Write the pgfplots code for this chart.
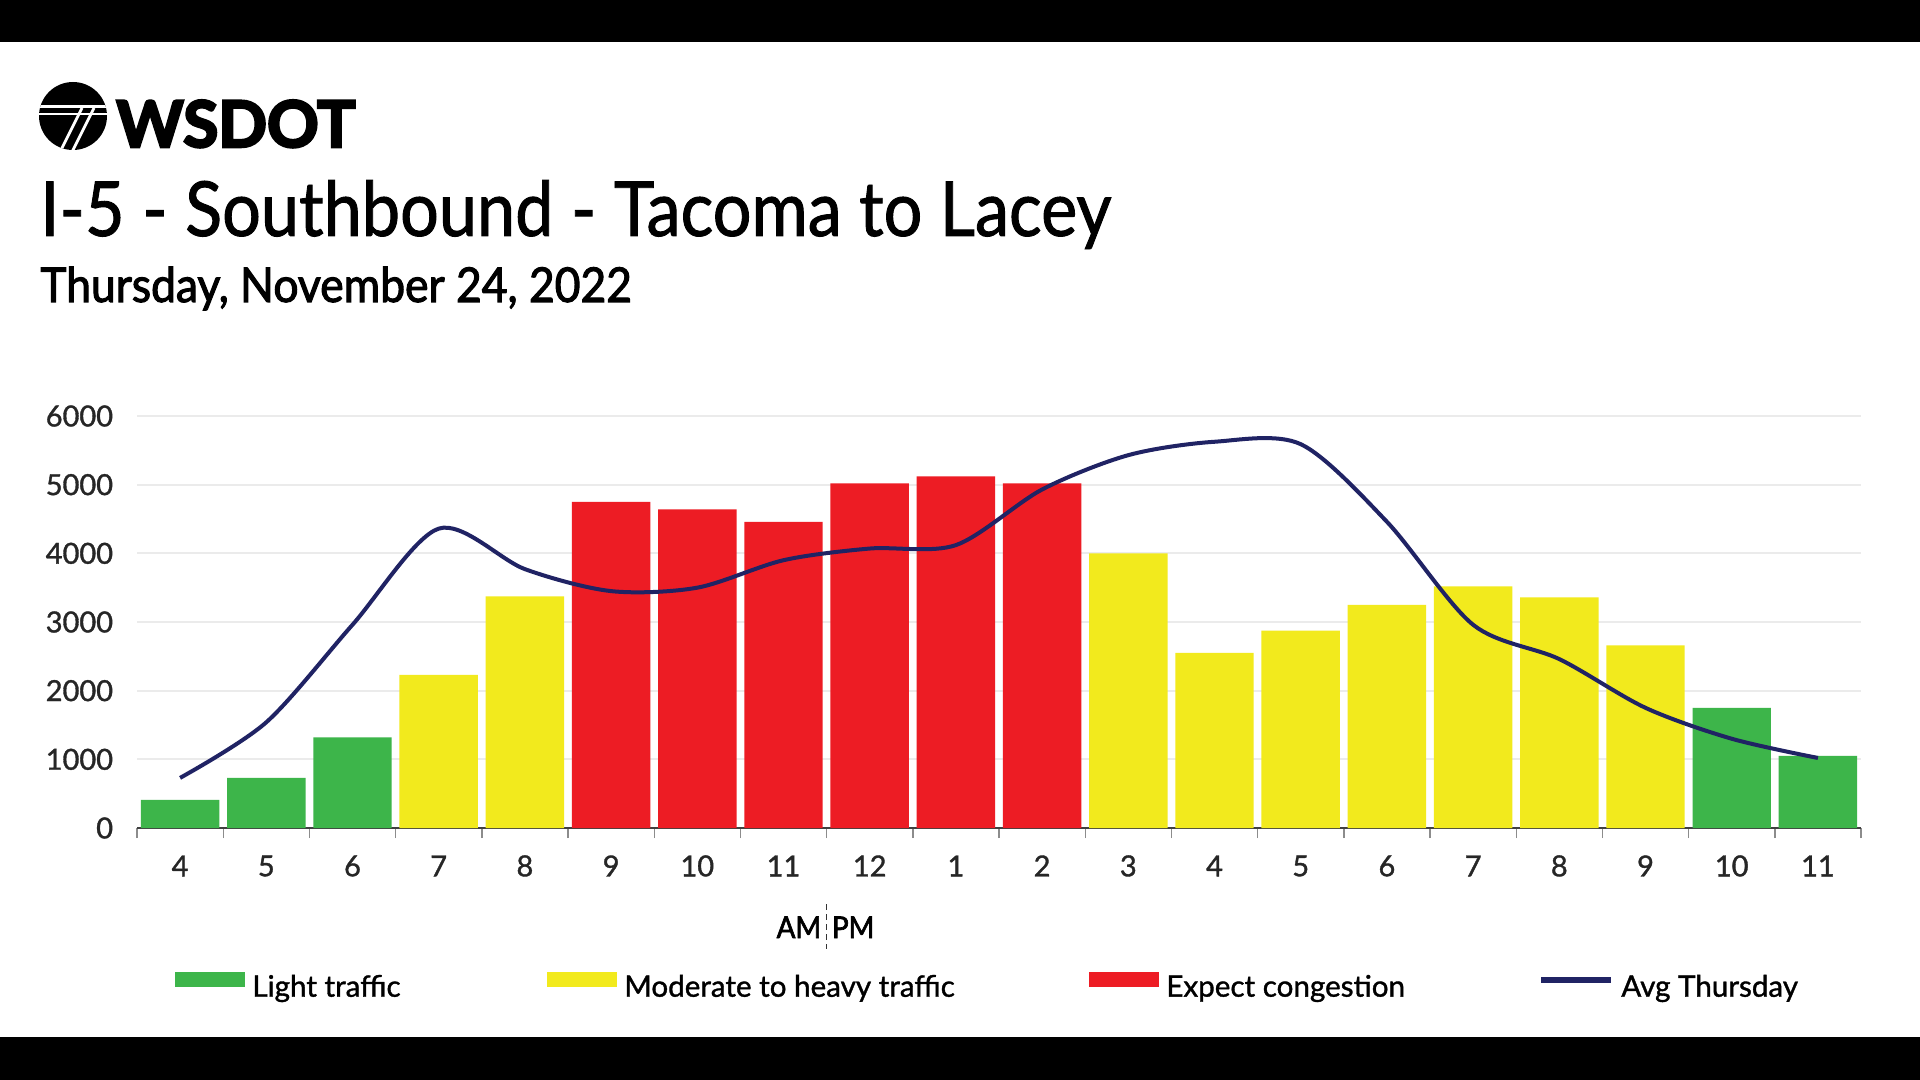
\documentclass[border=0pt]{standalone}
\usepackage{pgfplots}
\pgfplotsset{compat=1.18}
\usepackage{fontspec}
\setmainfont{Lato}
\newfontfamily\latosemi{Lato}[FakeBold=1.2]
\newfontfamily\latotitle{Lato}[FakeBold=1.2,FakeStretch=0.9]
\newfontfamily\latosub{Lato}[FakeBold=2.2,FakeStretch=0.925]
\newfontfamily\latoheavy{Lato Bold}[FakeBold=4]
\definecolor{lgreen}{HTML}{3DB54A}
\definecolor{lyellow}{HTML}{F2EA1D}
\definecolor{lred}{HTML}{ED1C24}
\definecolor{navy}{HTML}{202364}
\begin{document}
\begin{tikzpicture}
\useasboundingbox (0pt,0pt) rectangle (960pt,-540pt);
\fill[white] (0pt,0pt) rectangle (960pt,-540pt);
\fill[black] (0pt,0pt) rectangle (960pt,-21pt);
\fill[black] (0pt,-518.5pt) rectangle (960pt,-540pt);
% logo
\fill[black] (36.5pt,-58pt) circle (17pt);
\begin{scope}
\clip (36.5pt,-58pt) circle (17pt);
\fill[white] (18pt,-52.5pt) rectangle (56pt,-54pt);
\fill[white] (18pt,-56.5pt) rectangle (56pt,-57.6pt);
\draw[white, line width=1.4pt] (41pt,-54pt) -- (29pt,-78pt);
\draw[white, line width=1.4pt] (47pt,-54pt) -- (35pt,-78pt);
\end{scope}
\node[anchor=base west, inner sep=0pt, font=\fontsize{32}{32}\selectfont\latoheavy] at (58pt,-73.5pt) {WSDOT};
\node[anchor=base west, inner sep=0pt, font=\fontsize{38}{38}\selectfont\latotitle] at (20pt,-118pt) {I-5 - Southbound - Tacoma to Lacey};
\node[anchor=base west, inner sep=0pt, font=\fontsize{24}{24}\selectfont\latosub] at (20pt,-151pt) {Thursday, November 24, 2022};
\begin{axis}[at={(68.5pt,-414pt)}, anchor=south west, scale only axis,
  width=862pt, height=206pt,
  xmin=-0.5, xmax=19.5, ymin=0, ymax=6000, clip=false,
  axis x line*=bottom, axis y line*=left,
  y axis line style={draw=none},
  x axis line style={draw=black!75, line width=1.4pt},
  ytick={0,1000,...,6000}, ymajorgrids, grid style={color=black!8, line width=1pt},
  xtick={0,...,19},
  xticklabels={4,5,6,7,8,9,10,11,12,1,2,3,4,5,6,7,8,9,10,11},
  minor xtick={-0.5,0.5,...,19.5},
  xtick style={draw=none}, ytick style={draw=none},
  minor x tick style={draw=black!45, line width=0.7pt},
  minor tick length=5pt, tick align=outside,
  scaled y ticks=false,
  /pgf/number format/1000 sep={}, /pgf/number format/assume math mode=true,
  tick label style={font=\fontsize{14.5}{15}\selectfont\latosemi, text=black!85},
  yticklabel style={anchor=east, inner sep=0pt, xshift=-7.5pt},
  xticklabel style={anchor=center, inner sep=0pt, yshift=-14.7pt},
  legend columns=4,
  legend cell align=left,
  legend style={at={(axis description cs:0.022,-0.3835)}, anchor=west, draw=none, fill=none,
    inner sep=0pt, font=\fontsize{14.8}{15}\selectfont\latosemi,
    nodes={inner sep=0pt},
    /tikz/every odd column/.append style={column sep=3.5pt},
    /tikz/every even column/.append style={column sep=0pt}},
]
\addplot[ybar, bar width=0.91, bar shift=0pt, fill=lgreen, draw=none,
  legend image code/.code={\fill[lgreen] (0pt,0pt) rectangle (35pt,7.5pt);}]
  coordinates {(0,410) (1,730) (2,1320) (18,1750) (19,1050)};
\addlegendentry{\makebox[147.5pt][l]{Light traffic}}
\addplot[ybar, bar width=0.91, bar shift=0pt, fill=lyellow, draw=none,
  legend image code/.code={\fill[lyellow] (0pt,0pt) rectangle (35pt,7.5pt);}]
  coordinates {(3,2230) (4,3375) (11,4000) (12,2550) (13,2875) (14,3250) (15,3520) (16,3360) (17,2660)};
\addlegendentry{\makebox[232.5pt][l]{Moderate to heavy traffic}}
\addplot[ybar, bar width=0.91, bar shift=0pt, fill=lred, draw=none,
  legend image code/.code={\fill[lred] (0pt,0pt) rectangle (35pt,7.5pt);}]
  coordinates {(5,4750) (6,4640) (7,4460) (8,5020) (9,5120) (10,5020)};
\addlegendentry{\makebox[186pt][l]{Expect congestion}}
\addplot[smooth, tension=0.5, color=navy, line width=2pt, mark=none,
  legend image code/.code={\draw[navy, line width=3pt] (0pt,3.75pt) -- (35pt,3.75pt);}]
  coordinates {(0,730) (1,1540) (2,2960) (3,4360) (4,3770) (5,3450) (6,3500) (7,3900) (8,4070) (9,4120) (10,4930) (11,5430) (12,5625) (13,5590) (14,4460) (15,2960) (16,2460) (17,1750) (18,1300) (19,1020)};
\addlegendentry{Avg Thursday}
\draw[black!80, densely dashed, line width=0.6pt] ([yshift=-38pt]axis cs:7.5,0) -- ([yshift=-60.5pt]axis cs:7.5,0);
\node[anchor=base east, inner sep=0pt, xshift=-2.5pt, font=\fontsize{15}{15}\selectfont\latosub] at ([yshift=-55pt]axis cs:7.5,0) {AM};
\node[anchor=base west, inner sep=0pt, xshift=2.5pt, font=\fontsize{15}{15}\selectfont\latosub] at ([yshift=-55pt]axis cs:7.5,0) {PM};
\end{axis}
\end{tikzpicture}
\end{document}
